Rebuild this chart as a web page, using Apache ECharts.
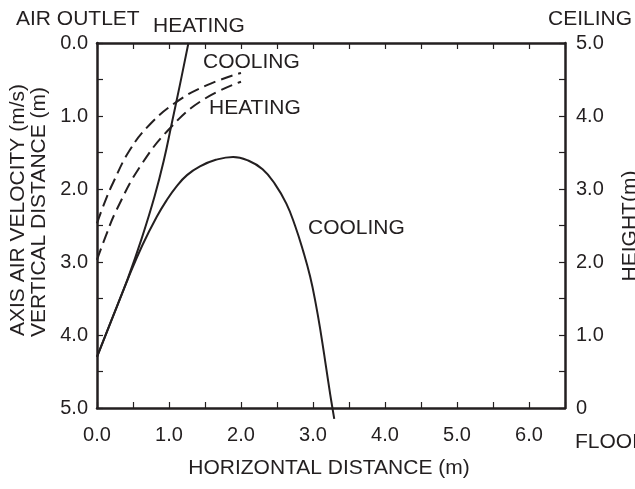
<!DOCTYPE html>
<html>
<head>
<meta charset="utf-8">
<script src="https://cdn.jsdelivr.net/npm/echarts@6/dist/echarts.min.js"></script>
<style>html,body{margin:0;padding:0;background:#fff;}#c{width:635px;height:489px;}</style>
</head>
<body>
<div id="c"></div>
<script>
// Tick labels
const xTickLabels = ['0.0','1.0','2.0','3.0','4.0','5.0','6.0'];
const leftTickLabels = ['0.0','1.0','2.0','3.0','4.0','5.0'];
const rightTickLabels = ['0','1.0','2.0','3.0','4.0','5.0'];

// Solid HEATING curve (horizontal distance m, vertical distance m from outlet)
const heatSolidX = [0.00, 0.20, 0.43, 0.62, 0.80, 0.93, 1.03, 1.15, 1.27];
const heatSolidY = [4.30, 3.80, 3.22, 2.68, 2.10, 1.60, 1.14, 0.58, 0.00];

// Solid COOLING curve
const coolSolidX = [0.00, 0.20, 0.43, 0.63, 0.83, 0.97, 1.10, 1.25, 1.43, 1.65, 1.89, 2.10, 2.30, 2.47, 2.63, 2.75, 2.86, 2.96, 3.04, 3.11, 3.18, 3.24, 3.295];
const coolSolidY = [4.30, 3.80, 3.23, 2.77, 2.38, 2.15, 1.97, 1.81, 1.69, 1.60, 1.56, 1.61, 1.73, 1.93, 2.20, 2.50, 2.84, 3.20, 3.58, 3.98, 4.43, 4.82, 5.15];

// Dashed COOLING (axis air velocity)
const coolDashX = [0.00, 0.10, 0.23, 0.46, 0.73, 1.10, 1.52, 2.00];
const coolDashY = [2.47, 2.20, 1.90, 1.46, 1.12, 0.81, 0.58, 0.41];

// Dashed HEATING (axis air velocity)
const heatDashX = [0.00, 0.12, 0.27, 0.60, 1.03, 1.47, 2.00];
const heatDashY = [2.97, 2.65, 2.29, 1.69, 1.15, 0.78, 0.53];

const pair = (xs, ys) => xs.map((x, i) => [x, ys[i]]);

const INK = '#231f20';
const FONT = 'Liberation Sans';
const FS = 20;   // tick labels
const FT = 21;   // titles / annotations
const tf = FT + 'px "' + FONT + '"';

const chart = echarts.init(document.getElementById('c'), null, {renderer: 'canvas'});

const axisCommon = {
  min: 0,
  interval: 0.5,
  axisLine: {show: true, onZero: false, lineStyle: {color: INK, width: 2.5}},
  axisTick: {show: true, inside: true, length: 6, interval: 0, lineStyle: {color: INK, width: 1.2}},
  splitLine: {show: false},
  axisLabel: {color: INK, fontFamily: FONT, fontSize: FS, interval: 0, showMinLabel: true, showMaxLabel: true}
};

const isInt = v => Math.abs(v - Math.round(v)) < 1e-6;

const lineSeries = (xs, ys, dashed) => ({
  type: 'line', xAxisIndex: 0, yAxisIndex: 0, data: pair(xs, ys), smooth: 0.45,
  symbol: 'none', clip: false,
  lineStyle: {color: INK, width: 2, type: dashed ? [12, 6] : 'solid'}
});

const option = {
  animation: false,
  backgroundColor: '#fff',
  grid: {left: 97, right: 70, top: 43, bottom: 81, containLabel: false},
  xAxis: [
    Object.assign({}, axisCommon, {
      type: 'value', position: 'bottom', max: 6.5,
      axisLabel: Object.assign({}, axisCommon.axisLabel, {
        margin: 17,
        formatter: v => (isInt(v) && Math.round(v) < xTickLabels.length) ? xTickLabels[Math.round(v)] : ''
      })
    }),
    Object.assign({}, axisCommon, {
      type: 'value', position: 'top', max: 6.5,
      axisLabel: {show: false}
    })
  ],
  yAxis: [
    Object.assign({}, axisCommon, {
      type: 'value', position: 'left', max: 5, inverse: true,
      axisLabel: Object.assign({}, axisCommon.axisLabel, {
        margin: 9,
        formatter: v => isInt(v) ? leftTickLabels[Math.round(v)] : ''
      })
    }),
    Object.assign({}, axisCommon, {
      type: 'value', position: 'right', max: 5,
      axisLabel: Object.assign({}, axisCommon.axisLabel, {
        margin: 11,
        formatter: v => isInt(v) ? rightTickLabels[Math.round(v)] : ''
      })
    })
  ],
  series: [
    lineSeries(heatSolidX, heatSolidY, false),
    lineSeries(coolSolidX, coolSolidY, false),
    lineSeries(coolDashX, coolDashY, true),
    lineSeries(heatDashX, heatDashY, true)
  ],
  graphic: [
    {type: 'text', x: 16, y: 19, style: {text: 'AIR OUTLET', fill: INK, font: tf, textVerticalAlign: 'middle'}},
    {type: 'text', x: 153, y: 26, style: {text: 'HEATING', fill: INK, font: tf, textVerticalAlign: 'middle'}},
    {type: 'text', x: 203, y: 62, style: {text: 'COOLING', fill: INK, font: tf, textVerticalAlign: 'middle'}},
    {type: 'text', x: 209, y: 108, style: {text: 'HEATING', fill: INK, font: tf, textVerticalAlign: 'middle'}},
    {type: 'text', x: 308, y: 228, style: {text: 'COOLING', fill: INK, font: tf, textVerticalAlign: 'middle'}},
    {type: 'text', x: 548, y: 19, style: {text: 'CEILING', fill: INK, font: tf, textVerticalAlign: 'middle'}},
    {type: 'text', x: 575, y: 442, style: {text: 'FLOOR', fill: INK, font: tf, textVerticalAlign: 'middle'}},
    {type: 'text', x: 329, y: 468, style: {text: 'HORIZONTAL DISTANCE (m)', fill: INK, font: tf, textAlign: 'center', textVerticalAlign: 'middle'}},
    {type: 'text', x: 18, y: 210, rotation: Math.PI / 2, style: {text: 'AXIS AIR VELOCITY (m/s)', fill: INK, font: tf, textAlign: 'center', textVerticalAlign: 'middle'}},
    {type: 'text', x: 39, y: 212, rotation: Math.PI / 2, style: {text: 'VERTICAL DISTANCE (m)', fill: INK, font: tf, textAlign: 'center', textVerticalAlign: 'middle'}},
    {type: 'text', x: 630, y: 226, rotation: Math.PI / 2, style: {text: 'HEIGHT(m)', fill: INK, font: tf, textAlign: 'center', textVerticalAlign: 'middle'}}
  ]
};
chart.setOption(option);
</script>
</body>
</html>
